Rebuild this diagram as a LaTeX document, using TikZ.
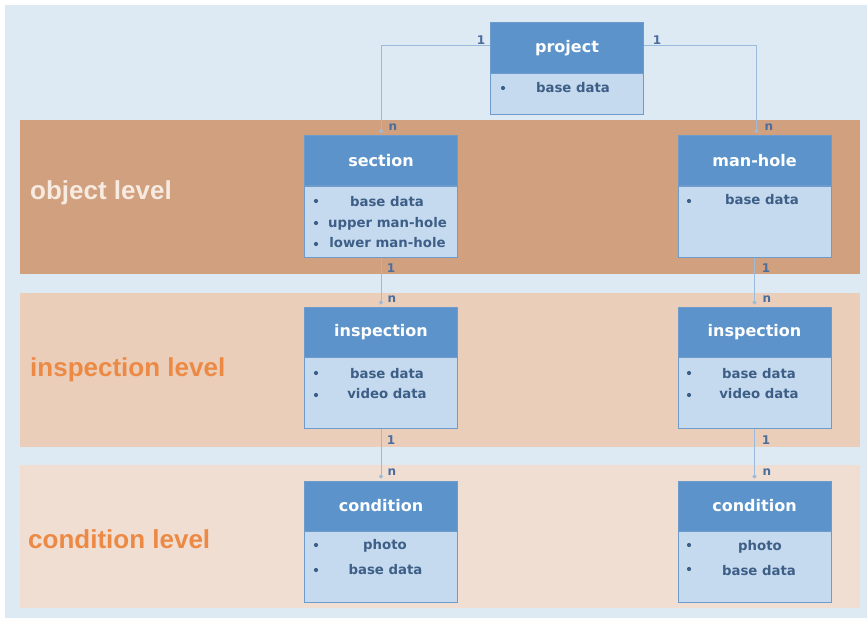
\documentclass[tikz,border=0pt]{standalone}
\usepackage{fontspec}
\setmainfont{DejaVu Sans}
\newfontfamily\lvlfont{Liberation Sans}
\usetikzlibrary{arrows.meta}
\definecolor{bgc}{HTML}{DDE9F3}
\definecolor{objband}{HTML}{D1A07F}
\definecolor{insband}{HTML}{EBCEB9}
\definecolor{conband}{HTML}{F0DED3}
\definecolor{hdrblue}{HTML}{5B93CA}
\definecolor{bodyblue}{HTML}{C5DAEE}
\definecolor{boxline}{HTML}{6D9BCB}
\definecolor{bodytext}{HTML}{3D5E87}
\definecolor{connc}{HTML}{9BBBDD}
\definecolor{lblc}{HTML}{4C6E9C}
\definecolor{objtext}{HTML}{F7EAE0}
\definecolor{orangec}{HTML}{EC8A45}
\tikzset{
  hdr/.style={draw=boxline, line width=1pt, fill=hdrblue, minimum width=153pt, minimum height=50pt,
    inner sep=0pt, text=white, font=\bfseries\fontsize{16}{18}\selectfont},
  bodybox/.style={draw=boxline, line width=1pt, fill=bodyblue, minimum width=153pt, inner sep=0pt},
  item/.style={text=bodytext, font=\bfseries\fontsize{13.3}{15}\selectfont, inner sep=0pt,
    text height=1.5ex, text depth=0.3ex},
  bul/.style={circle, fill=bodytext, inner sep=0pt, minimum size=4.2pt},
  conn/.style={draw=connc, line width=0.9pt, -{Circle[length=4pt,fill=connc]}, shorten >=2pt},
  card/.style={text=lblc, font=\bfseries\fontsize{12}{13}\selectfont, inner sep=0pt},
  lvl/.style={anchor=west, inner sep=0pt, font=\lvlfont\bfseries\fontsize{26}{28}\selectfont}
}
\begin{document}
\begin{tikzpicture}[x=1pt,y=-1pt]
\useasboundingbox (0,0) rectangle (867,618);
\fill[bgc] (5,5) rectangle (867,618);
\fill[objband] (20,120) rectangle (860,274);
\fill[insband] (20,293) rectangle (860,447);
\fill[conband] (20,465) rectangle (860,608);

% level labels
\node[lvl, text=objtext] (lobj) at (30,193) {object level};
\node[lvl, text=orangec] (lins) at (30,370) {inspection level};
\node[lvl, text=orangec] (lcon) at (28,539) {condition level};

% project
\node[hdr] (ph) at (567,48) {project};
\node[bodybox, minimum height=41pt] (pb) at (567,93.5) {};
\node[bul] (pb1) at (503,88) {};
\node[item] (pt1) at (573,89) {base data};

% section
\node[hdr] (sh) at (381,160.5) {section};
\node[bodybox, minimum height=71pt] (sb) at (381,221.5) {};
\node[bul] (sb1) at (316,201) {};
\node[bul] (sb2) at (316,223) {};
\node[bul] (sb3) at (316,244) {};
\node[item] (st1) at (387,203) {base data};
\node[item] (st2) at (387.5,224) {upper man-hole};
\node[item] (st3) at (387.5,244) {lower man-hole};

% man-hole
\node[hdr] (mh) at (754.5,160.5) {man-hole};
\node[bodybox, minimum height=71pt] (mb) at (754.5,221.5) {};
\node[bul] (mb1) at (689,201) {};
\node[item] (mt1) at (762,201) {base data};

% inspection left
\node[hdr] (ilh) at (381,332) {inspection};
\node[bodybox, minimum height=71pt] (ilb) at (381,392.5) {};
\node[bul] (ilb1) at (316,373) {};
\node[bul] (ilb2) at (316,395) {};
\node[item] (ilt1) at (387,375) {base data};
\node[item] (ilt2) at (387,395) {video data};

% inspection right
\node[hdr] (irh) at (754.5,332) {inspection};
\node[bodybox, minimum height=71pt] (irb) at (754.5,392.5) {};
\node[bul] (irb1) at (689,373) {};
\node[bul] (irb2) at (689,395) {};
\node[item] (irt1) at (759,375) {base data};
\node[item] (irt2) at (759,395) {video data};

% condition left
\node[hdr] (clh) at (381,506) {condition};
\node[bodybox, minimum height=71pt] (clb) at (381,566.5) {};
\node[bul] (clb1) at (316,545) {};
\node[bul] (clb2) at (316,570) {};
\node[item] (clt1) at (385,546) {photo};
\node[item] (clt2) at (385.5,571) {base data};

% condition right
\node[hdr] (crh) at (754.5,506) {condition};
\node[bodybox, minimum height=71pt] (crb) at (754.5,566.5) {};
\node[bul] (crb1) at (689,545) {};
\node[bul] (crb2) at (689,569) {};
\node[item] (crt1) at (760,547) {photo};
\node[item] (crt2) at (759,572) {base data};

% connectors
\draw[conn] ([yshift=3pt]ph.west) -| (sh.north);
\draw[conn] ([yshift=3pt]ph.east) -| ([xshift=2pt]mh.north);
\draw[conn] (sb.south) -- (ilh.north);
\draw[conn] (mb.south) -- (irh.north);
\draw[conn] (ilb.south) -- (clh.north);
\draw[conn] (irb.south) -- (crh.north);

% cardinalities
\node[card] (c1) at (481,40) {1};
\node[card] (c2) at (657,40) {1};
\node[card] (c3) at (393,127) {n};
\node[card] (c4) at (769,127) {n};
\node[card] (c5) at (391,268) {1};
\node[card] (c6) at (392,299) {n};
\node[card] (c7) at (766,268) {1};
\node[card] (c8) at (767,299) {n};
\node[card] (c9) at (391,440) {1};
\node[card] (c10) at (392,472) {n};
\node[card] (c11) at (766,440) {1};
\node[card] (c12) at (767,472) {n};
\end{tikzpicture}
\end{document}
